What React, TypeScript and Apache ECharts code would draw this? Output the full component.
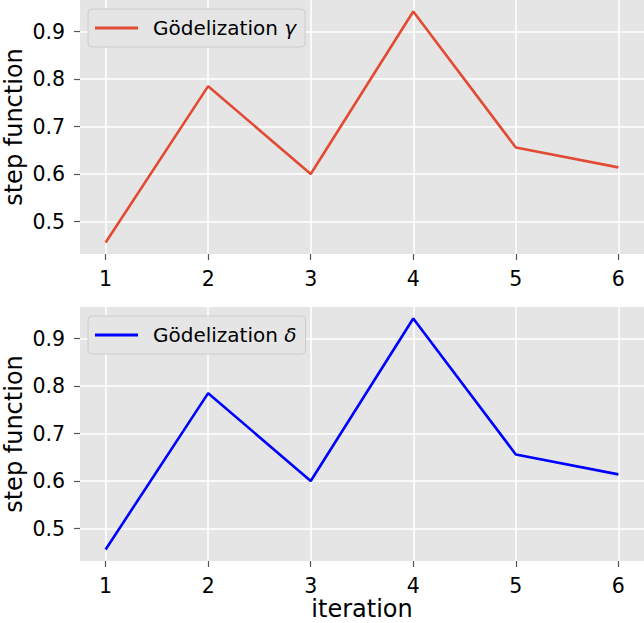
import React, { useEffect, useRef } from "react";
import * as echarts from "echarts";

const iterations = [1, 2, 3, 4, 5, 6];
const gammaValues = [0.456, 0.785, 0.6, 0.942, 0.656, 0.614];
const deltaValues = [0.456, 0.785, 0.6, 0.942, 0.656, 0.614];
const xTicks = [1, 2, 3, 4, 5, 6];
const yTicks = [0.5, 0.6, 0.7, 0.8, 0.9];
const seriesNames = ["Gödelization γ", "Gödelization δ"];

const FONT = "DejaVu Sans";

export default function App() {
  const ref = useRef<HTMLDivElement>(null);
  useEffect(() => {
    if (!ref.current) return;
    const chart = echarts.init(ref.current, null, { renderer: "svg" });
    const all = gammaValues.concat(deltaValues);
    const yMinD = Math.min(...all);
    const yMaxD = Math.max(...all);
    const ym = (yMaxD - yMinD) * 0.05;
    const xMinD = Math.min(...iterations);
    const xMaxD = Math.max(...iterations);
    const xm = (xMaxD - xMinD) * 0.05;

    const xAxisBase = (idx: number, withName: boolean) => ({
      type: "value",
      gridIndex: idx,
      min: xMinD - xm,
      max: xMaxD + xm,
      name: withName ? "iteration" : "",
      nameLocation: "middle",
      nameGap: 34,
      nameTextStyle: { fontFamily: FONT, fontSize: 24, color: "#000" },
      axisLine: { show: false },
      axisTick: {
        show: true,
        length: 6,
        lineStyle: { color: "#555", width: 1.2 },
        customValues: xTicks,
      },
      axisLabel: {
        customValues: xTicks,
        margin: 14,
        fontFamily: FONT,
        fontSize: 20.5,
        color: "#000",
        formatter: (v: number) => String(v),
      },
      splitLine: { show: true, lineStyle: { color: "#fff", width: 1.5 } },
    });

    const yAxisBase = (idx: number) => ({
      type: "value",
      gridIndex: idx,
      min: yMinD - ym,
      max: yMaxD + ym,
      name: "step function",
      nameLocation: "middle",
      nameGap: 54,
      nameMoveOverlap: false,
      nameTextStyle: { fontFamily: FONT, fontSize: 24, lineHeight: 24, color: "#000" },
      axisLine: { show: false },
      axisTick: {
        show: true,
        length: 6,
        lineStyle: { color: "#555", width: 1.2 },
        customValues: yTicks,
      },
      axisLabel: {
        customValues: yTicks,
        margin: 15,
        fontFamily: FONT,
        fontSize: 20.5,
        color: "#000",
        formatter: (v: number) => v.toFixed(1),
      },
      splitLine: { show: true, lineStyle: { color: "#fff", width: 1.5 } },
    });

    const legendBase = (name: string, top: number) => ({
      data: [name],
      left: 88,
      top: top,
      orient: "vertical",
      backgroundColor: "#E5E5E5",
      borderColor: "#CCCCCC",
      borderWidth: 1,
      borderRadius: 4,
      padding: [9, 9, 9, 7],
      icon: "rect",
      itemWidth: 43,
      itemHeight: 2.8,
      formatter: (n: string) => {
        const base = n.slice(0, -1);
        const greek = n.slice(-1);
        return `{a|${base}}{b|${greek}}`;
      },
      textStyle: {
        fontFamily: FONT,
        fontSize: 20,
        color: "#000",
        padding: [0, 0, 0, 10],
        rich: {
          a: { fontFamily: FONT, fontSize: 20, color: "#000" },
          b: { fontFamily: FONT, fontSize: 20, color: "#000", fontStyle: "italic" },
        },
      },
    });

    const gridBase = (top: number) => ({
      left: 80,
      top: top,
      width: 564,
      height: 254,
      backgroundColor: "#E5E5E5",
      show: true,
      borderWidth: 0,
      containLabel: false,
      outerBoundsMode: "none",
    });

    chart.setOption({
      animation: false,
      backgroundColor: "#fff",
      grid: [gridBase(0), gridBase(307)],
      xAxis: [xAxisBase(0, false), xAxisBase(1, true)],
      yAxis: [yAxisBase(0), yAxisBase(1)],
      legend: [legendBase(seriesNames[0], 9), legendBase(seriesNames[1], 316)],
      series: [
        {
          name: seriesNames[0],
          type: "line",
          xAxisIndex: 0,
          yAxisIndex: 0,
          symbol: "none",
          data: iterations.map((x, i) => [x, gammaValues[i]]),
          lineStyle: { color: "#E24A33", width: 2.6 },
          itemStyle: { color: "#E24A33" },
        },
        {
          name: seriesNames[1],
          type: "line",
          xAxisIndex: 1,
          yAxisIndex: 1,
          symbol: "none",
          data: iterations.map((x, i) => [x, deltaValues[i]]),
          lineStyle: { color: "#0000FF", width: 2.6 },
          itemStyle: { color: "#0000FF" },
        },
      ],
    });
    return () => chart.dispose();
  }, []);
  return <div ref={ref} style={{ width: 644, height: 623, position: "absolute", left: 0, top: 0 }} />;
}
